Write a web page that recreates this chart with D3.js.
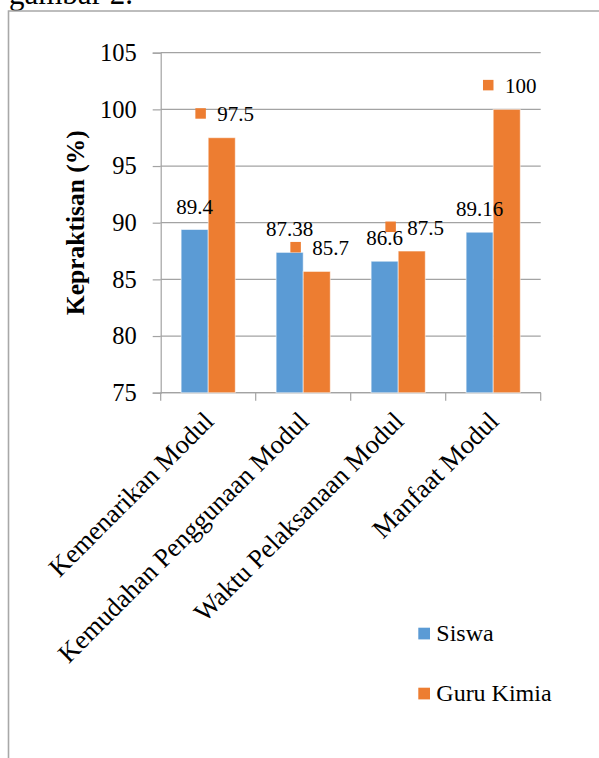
<!DOCTYPE html>
<html>
<head>
<meta charset="utf-8">
<script src="https://cdn.jsdelivr.net/npm/d3@7/dist/d3.min.js"></script>
<style>
  html, body { margin: 0; padding: 0; background: #fff; }
  svg { display: block; }
  text { font-family: "Liberation Serif", "Times New Roman", serif; fill: #000; }
</style>
</head>
<body>
<svg id="chart" width="599" height="758" font-family="Liberation Serif"></svg>
<script>
// ---- data ----
const categories = ["Kemenarikan Modul", "Kemudahan Penggunaan Modul", "Waktu Pelaksanaan Modul", "Manfaat Modul"];
const seriesNames = ["Siswa", "Guru Kimia"];
const siswaValues = [89.4, 87.38, 86.6, 89.16];
const guruValues = [97.5, 85.7, 87.5, 100];
const yTicks = [75, 80, 85, 90, 95, 100, 105];
const seriesColors = ["#5B9BD5", "#ED7D31"];
const yTitle = "Kepraktisan (%)";
const headerText = "gambar 2.";

const rows = categories.map((c, i) => ({ cat: c, values: [siswaValues[i], guruValues[i]] }));

const svg = d3.select("#chart");
const SERIF = "'Liberation Serif', 'Times New Roman', serif";

// header text (cut off at top, as in the source page) and frame
svg.append("text").attr("x", 9).attr("y", 4).style("font-size", "31px").style("font-family", SERIF).text(headerText);
svg.append("path")
  .attr("d", "M8.5,900 L8.5,11 L700,11")
  .attr("fill", "none").attr("stroke", "#a8a8a8").attr("stroke-width", 1.6);

// ---- scales ----
const plot = { left: 160.7, right: 540.7, top: 52.7, bottom: 392.7 };
const x = d3.scaleBand().domain(categories).range([plot.left, plot.right])
  .paddingInner(0.43).paddingOuter(0.215);
const xs = d3.scaleBand().domain(seriesNames).range([0, x.bandwidth()]).padding(0);
const y = d3.scaleLinear().domain([75, 105]).range([plot.bottom, plot.top]);

const gridColor = "#a3a3a3";

// gridlines
svg.append("g").selectAll("line").data(yTicks).join("line")
  .attr("x1", plot.left).attr("x2", plot.right)
  .attr("y1", d => y(d)).attr("y2", d => y(d))
  .attr("stroke", gridColor).attr("stroke-width", 1.2);

// y axis
const yAxis = d3.axisLeft(y).tickValues(yTicks).tickSize(8).tickPadding(16).tickFormat(d3.format("d"));
const gy = svg.append("g").attr("transform", `translate(${plot.left},0)`).call(yAxis);
gy.attr("font-family", null).attr("font-size", null);
gy.select(".domain").attr("stroke", gridColor).attr("stroke-width", 1.2);
gy.selectAll(".tick line").attr("stroke", gridColor).attr("stroke-width", 1.2);
gy.selectAll(".tick text").style("font-size", "24.5px").style("font-family", SERIF).attr("fill", "#000");

// x axis line & ticks at band boundaries
const boundaries = categories.map((c, i) => i === 0 ? plot.left : x(c) - x.step() * x.paddingInner() / 2);
boundaries.push(plot.right);
svg.append("line").attr("x1", plot.left).attr("x2", plot.right)
  .attr("y1", y(75)).attr("y2", y(75)).attr("stroke", gridColor).attr("stroke-width", 1.2);
svg.append("g").selectAll("line").data(boundaries).join("line")
  .attr("x1", d => d).attr("x2", d => d)
  .attr("y1", y(75)).attr("y2", y(75) + 8)
  .attr("stroke", gridColor).attr("stroke-width", 1.2);

// bars
const groups = svg.append("g").selectAll("g").data(rows).join("g")
  .attr("transform", d => `translate(${x(d.cat)},0)`);
groups.selectAll("rect").data(d => d.values.map((v, j) => ({ v, s: seriesNames[j], j }))).join("rect")
  .attr("x", d => xs(d.s))
  .attr("width", xs.bandwidth())
  .attr("y", d => y(d.v))
  .attr("height", d => y(75) - y(d.v))
  .attr("fill", d => seriesColors[d.j])
  .attr("stroke", "#ffffff").attr("stroke-opacity", 0.55).attr("stroke-width", 1);

// Siswa labels
groups.append("text")
  .attr("x", xs(seriesNames[0]) + xs.bandwidth() / 2)
  .attr("y", d => y(d.values[0]) - 16)
  .attr("text-anchor", "middle")
  .style("font-size", "21px").style("font-family", SERIF)
  .text(d => d.values[0]);

// Guru labels with legend key
groups.each(function(d) {
  const g = d3.select(this);
  const cx = xs(seriesNames[1]) + xs.bandwidth() / 2;
  const base = y(d.values[1]) - 16.5;
  const t = g.append("text").attr("y", base).style("font-size", "21px").style("font-family", SERIF).text(d.values[1]);
  const tw = t.node().getComputedTextLength();
  const sq = 10.5, gap = 11.5;
  const blockW = sq + gap + tw;
  const start = cx + 3 - blockW / 2;
  g.append("rect").attr("x", start).attr("y", base - 13).attr("width", sq).attr("height", sq)
    .attr("fill", seriesColors[1]);
  t.attr("x", start + sq + gap);
});

// category labels
svg.append("g").selectAll("text").data(categories).join("text")
  .attr("transform", d => `translate(${x(d) + x.bandwidth() / 2 + 7},${y(75) + 30}) rotate(-45)`)
  .attr("text-anchor", "end")
  .style("font-size", "26.5px").style("font-family", SERIF)
  .text(d => d);

// y axis title
svg.append("text")
  .attr("transform", `translate(84,${(plot.top + plot.bottom) / 2}) rotate(-90)`)
  .attr("text-anchor", "middle")
  .style("font-size", "25.5px").style("font-weight", "bold").style("font-family", SERIF)
  .text(yTitle);

// legend
const legend = svg.append("g").selectAll("g").data(seriesNames).join("g")
  .attr("transform", (d, i) => `translate(418.3,${627.7 + i * 60})`);
legend.append("rect").attr("width", 11.7).attr("height", 11.7).attr("fill", (d, i) => seriesColors[i]);
legend.append("text").attr("x", 18).attr("y", 13).style("font-size", "24px").style("font-family", SERIF).text(d => d);
</script>
</body>
</html>
